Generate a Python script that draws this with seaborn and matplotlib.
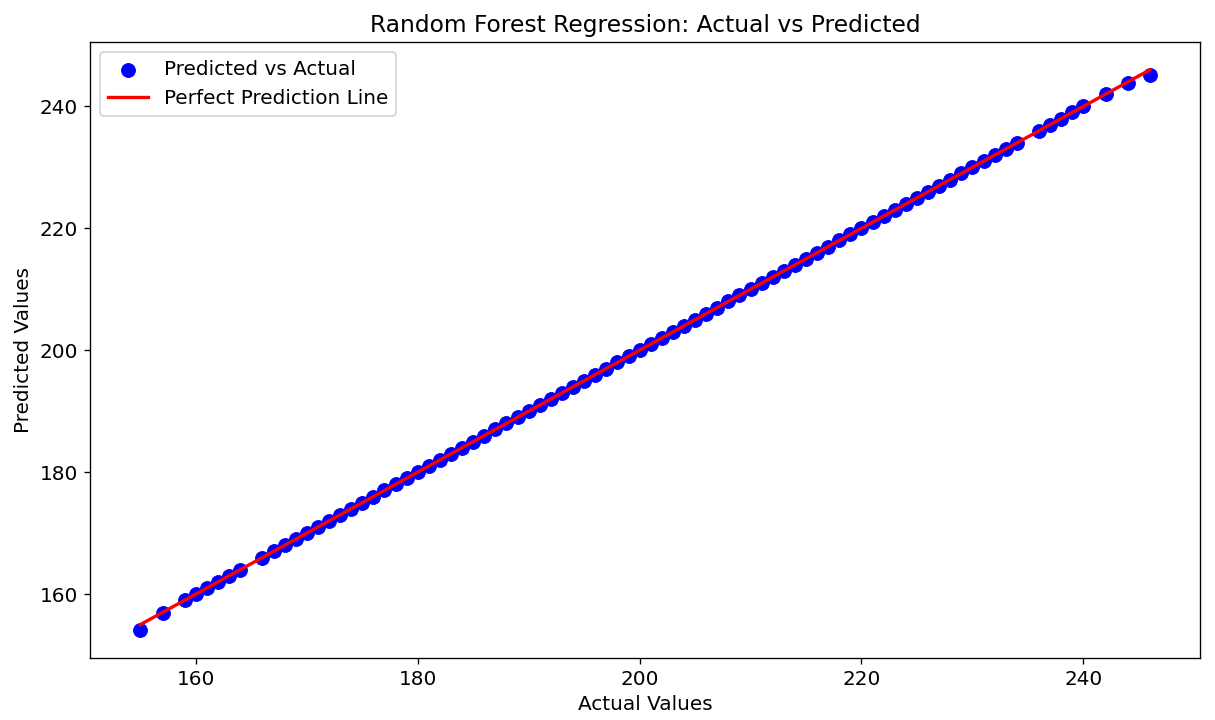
import matplotlib
matplotlib.use("Agg")
import matplotlib.pyplot as plt
import seaborn as sns
import pandas as pd

actual = [155, 157, 159, 160, 161, 162, 163, 164,
          166, 167, 168, 169, 170, 171, 172, 173, 174, 175, 176, 177, 178, 179,
          180, 181, 182, 183, 184, 185, 186, 187, 188, 189, 190, 191, 192, 193,
          194, 195, 196, 197, 198, 199, 200, 201, 202, 203, 204, 205, 206, 207,
          208, 209, 210, 211, 212, 213, 214, 215, 216, 217, 218, 219, 220, 221,
          222, 223, 224, 225, 226, 227, 228, 229, 230, 231, 232, 233, 234,
          236, 237, 238, 239, 240, 242, 244, 246]
predicted = [154.1, 156.9, 159.0, 160.0, 161.0, 162.0, 163.0, 164.0,
             166.0, 167.0, 168.0, 169.0, 170.0, 171.0, 172.0, 173.0, 174.0, 175.0, 176.0, 177.0, 178.0, 179.0,
             180.0, 181.0, 182.0, 183.0, 184.0, 185.0, 186.0, 187.0, 188.0, 189.0, 190.0, 191.0, 192.0, 193.0,
             194.0, 195.0, 196.0, 197.0, 198.0, 199.0, 200.0, 201.0, 202.0, 203.0, 204.0, 205.0, 206.0, 207.0,
             208.0, 209.0, 210.0, 211.0, 212.0, 213.0, 214.0, 215.0, 216.0, 217.0, 218.0, 219.0, 220.0, 221.0,
             222.0, 223.0, 224.0, 225.0, 226.0, 227.0, 228.0, 229.0, 230.0, 231.0, 232.0, 233.0, 234.0,
             236.0, 237.0, 238.0, 239.0, 240.0, 242.0, 243.8, 245.2]

df = pd.DataFrame({"Actual": actual, "Predicted": predicted})

plt.rcdefaults()
plt.rcParams['font.family'] = ['DejaVu Sans']
plt.rcParams['font.size'] = 12

fig, ax = plt.subplots(figsize=(10.125, 6), dpi=120)
fig.subplots_adjust(left=0.074, right=0.988, top=0.942, bottom=0.086)

sns.scatterplot(data=df, x="Actual", y="Predicted", color="blue", s=70,
                edgecolor="blue", linewidth=0.5, label="Predicted vs Actual", ax=ax, zorder=2)
lo, hi = min(actual), max(actual)
sns.lineplot(x=[lo, hi], y=[lo, hi], color="red", linewidth=2,
             label="Perfect Prediction Line", ax=ax, zorder=3)

ax.set_title("Random Forest Regression: Actual vs Predicted", fontsize=14)
ax.set_xlabel("Actual Values", fontsize=12)
ax.set_ylabel("Predicted Values", fontsize=12)
ax.set_xticks([160, 180, 200, 220, 240])
ax.set_yticks([160, 180, 200, 220, 240])
ax.tick_params(labelsize=12)
ax.legend(loc="upper left", fontsize=12)

fig.savefig("out.png", dpi=120)
